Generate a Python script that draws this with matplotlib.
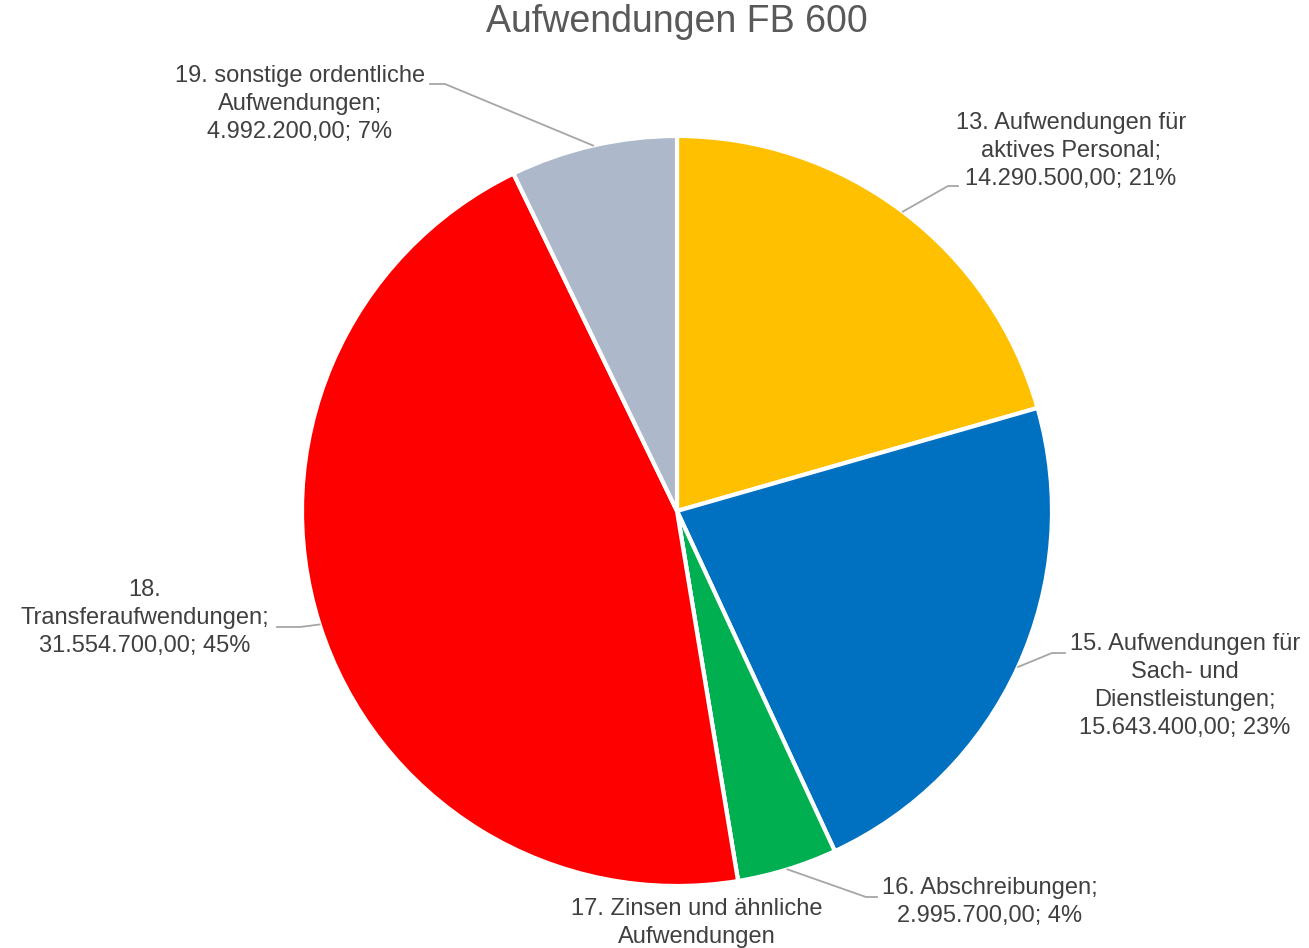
import numpy as np
import matplotlib.pyplot as plt

plt.rcParams['font.family'] = ['Liberation Sans', 'DejaVu Sans']

categories = ['13. Aufwendungen für\naktives Personal;',
              '15. Aufwendungen für\nSach- und\nDienstleistungen;',
              '16. Abschreibungen;',
              '17. Zinsen und ähnliche\nAufwendungen',
              '18.\nTransferaufwendungen;',
              '19. sonstige ordentliche\nAufwendungen;']
values = [14290500.00, 15643400.00, 2995700.00, 0.00, 31554700.00, 4992200.00]
colors = ['#FFC000', '#0070C0', '#00B050', '#ED7D31', '#FF0000', '#ADB9CA']

W, H = 1309, 948
fig = plt.figure(figsize=(W / 100, H / 100), dpi=100)
ax = fig.add_axes([0, 0, 1, 1])

cx, cy, r = 677, H - 511, 375
wedges, _ = ax.pie(values, colors=colors, startangle=90, counterclock=False,
                   center=(cx, cy), radius=r, frame=True,
                   wedgeprops=dict(edgecolor='white', linewidth=3))
ax.set_xlim(0, W)
ax.set_ylim(0, H)
ax.set_aspect('equal')
ax.axis('off')

def fmt(v):
    s = f'{v:,.2f}'
    return s.replace(',', 'X').replace('.', ',').replace('X', '.')

total = sum(values)
labels = []
for c, v in zip(categories, values):
    if v == 0:
        # value line falls off the bottom edge in the original
        labels.append(c)
    else:
        labels.append(f'{c}\n{fmt(v)}; {round(v / total * 100):.0f}%')

# label anchor (pixel coords) and leader line elbow
label_pos = [(1071, 151, 'center'), (1185, 686, 'center'), (990, 902, 'center'),
             (697, 898, 'top'), (145, 618, 'center'), (300, 104, 'center')]
elbows = [[(948, 186), (958, 186)], [(1052, 653), (1065, 653)],
          [(866, 897), (877, 897)], None,
          [(300, 627), (277, 627)], [(445, 84), (430, 84)]]

for w, lab, (lx, ly, va), elb in zip(wedges, labels, label_pos, elbows):
    ax.text(lx, H - ly, lab, ha='center', va=va, fontsize=17, color='#404040',
            linespacing=1.36)
    if elb is None:
        continue
    mid = np.deg2rad((w.theta1 + w.theta2) / 2)
    pts = [(cx + r * np.cos(mid), cy + r * np.sin(mid))] + [(x, H - y) for x, y in elb]
    xs, ys = zip(*pts)
    ax.plot(xs, ys, color='#A6A6A6', linewidth=1.3)

ax.text(677, H - 22, 'Aufwendungen FB 600', ha='center', va='center',
        fontsize=27, color='#595959')

fig.savefig('out.png', dpi=100)
